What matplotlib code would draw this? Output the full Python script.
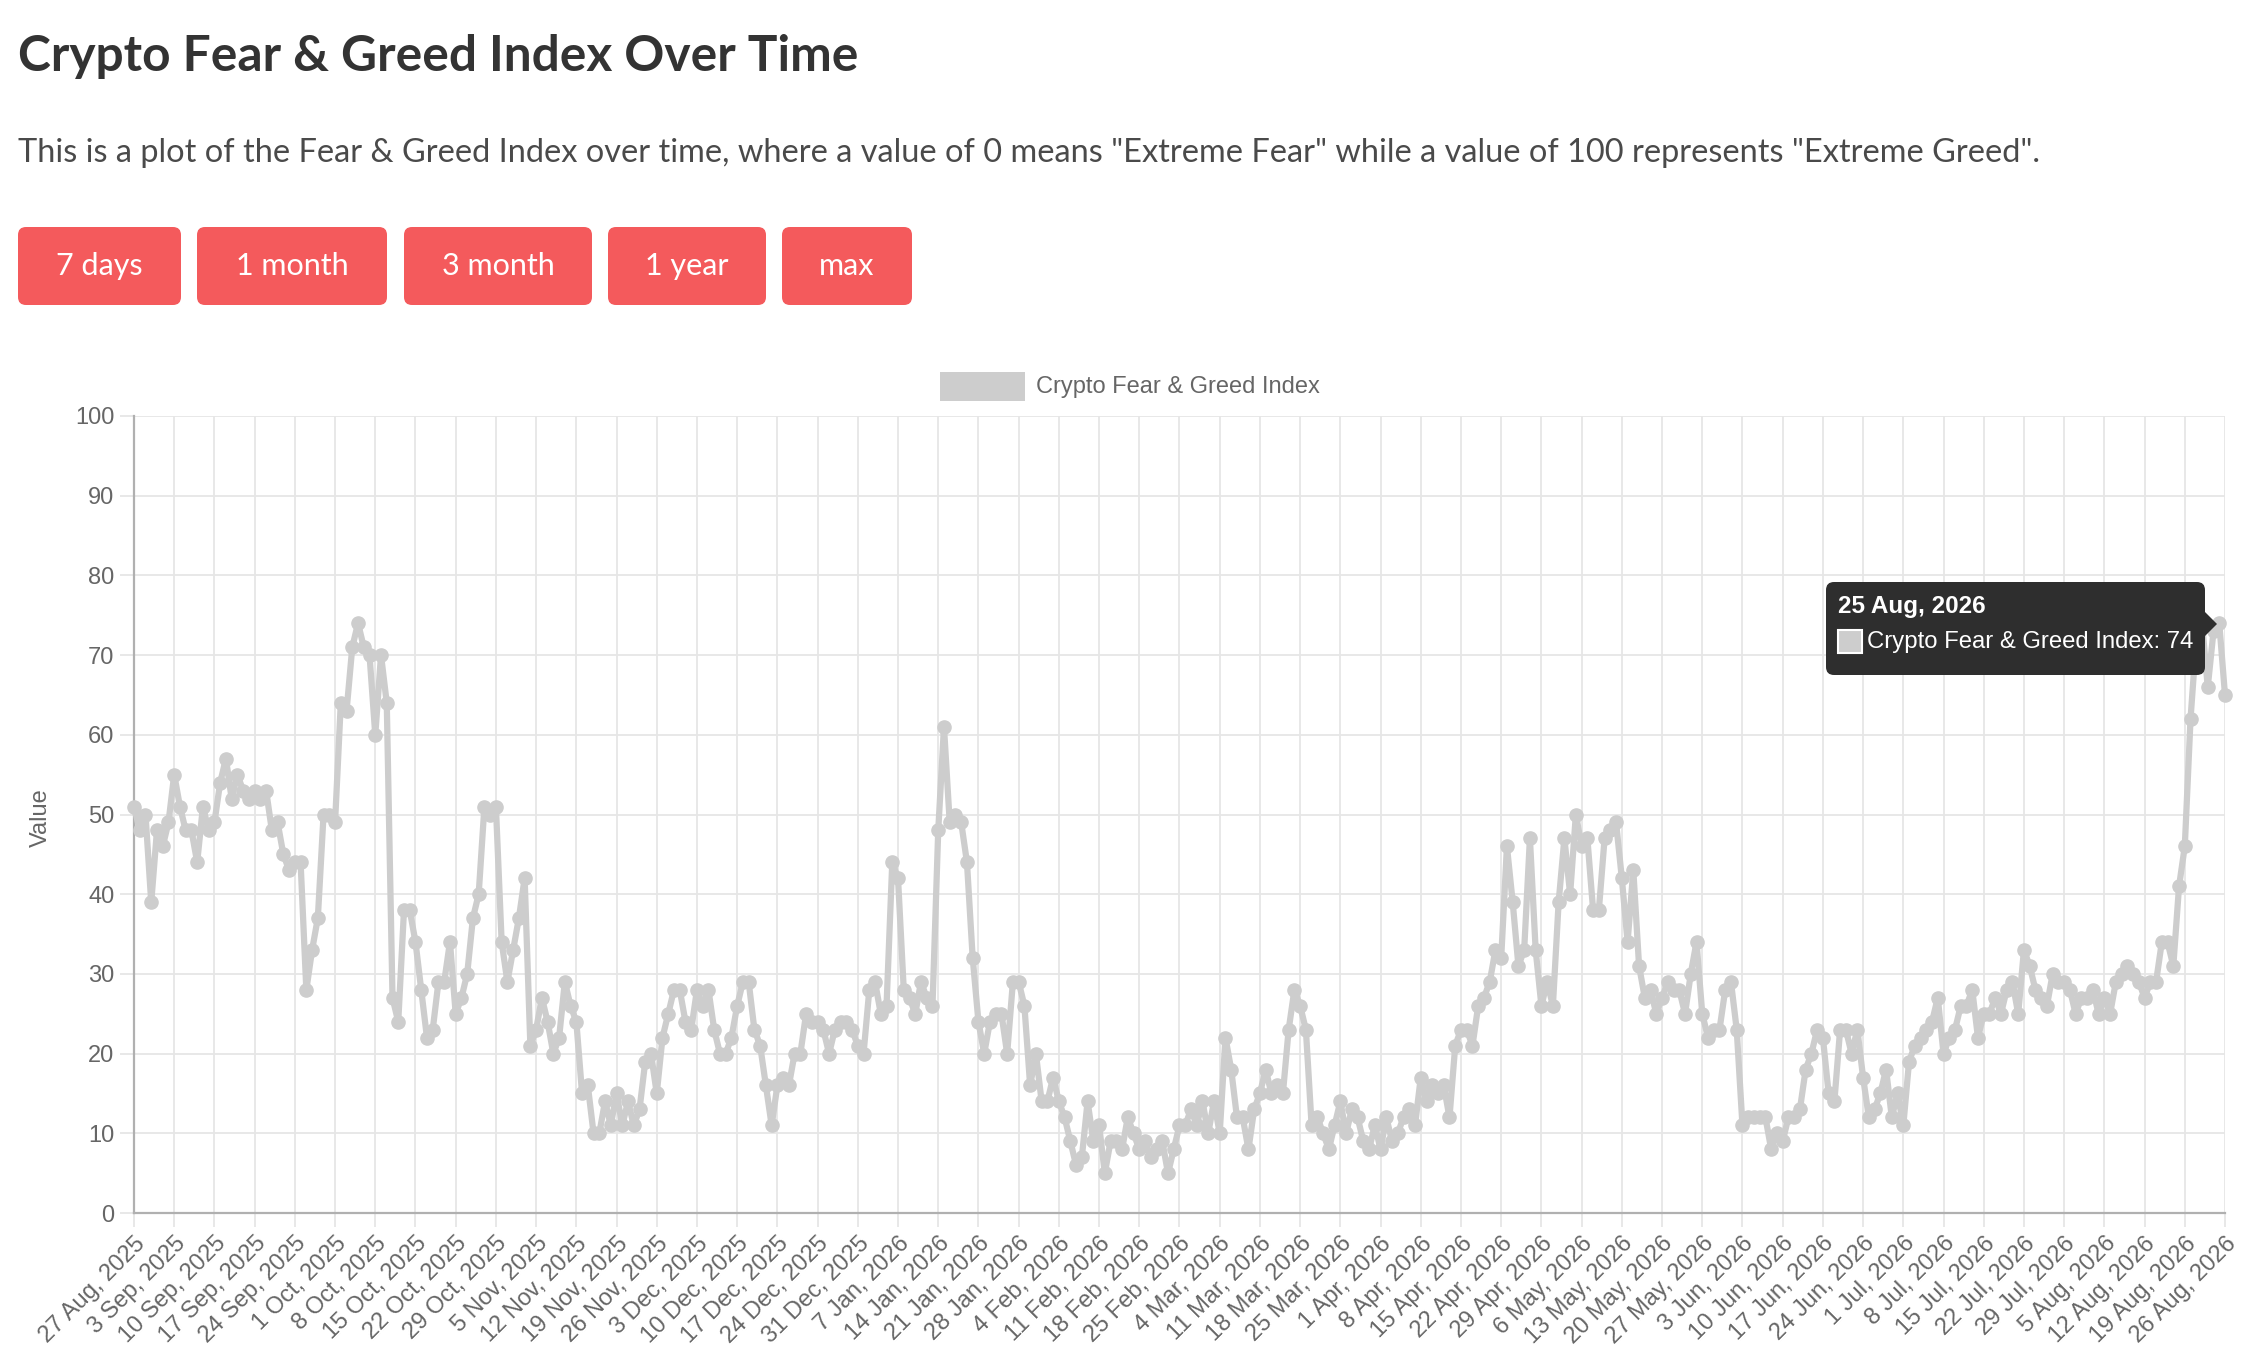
import numpy as np
import pandas as pd
import matplotlib
matplotlib.use("Agg")
import matplotlib.pyplot as plt
from matplotlib.patches import FancyBboxPatch, Polygon, Rectangle

W, H = 2259, 1370

# data: one value per day, 27 Aug 2025 .. 26 Aug 2026
start_date = "2025-08-27"
end_date = "2026-08-26"
series_name = "Crypto Fear & Greed Index"
fng_values = [
    51, 48, 50, 39, 48, 46, 49,
    55, 51, 48, 48, 44, 51, 48,
    49, 54, 57, 52, 55, 53, 52,
    53, 52, 53, 48, 49, 45, 43,
    44, 44, 28, 33, 37, 50, 50,
    49, 64, 63, 71, 74, 71, 70,
    60, 70, 64, 27, 24, 38, 38,
    34, 28, 22, 23, 29, 29, 34,
    25, 27, 30, 37, 40, 51, 50,
    51, 34, 29, 33, 37, 42, 21,
    23, 27, 24, 20, 22, 29, 26,
    24, 15, 16, 10, 10, 14, 11,
    15, 11, 14, 11, 13, 19, 20,
    15, 22, 25, 28, 28, 24, 23,
    28, 26, 28, 23, 20, 20, 22,
    26, 29, 29, 23, 21, 16, 11,
    16, 17, 16, 20, 20, 25, 24,
    24, 23, 20, 23, 24, 24, 23,
    21, 20, 28, 29, 25, 26, 44,
    42, 28, 27, 25, 29, 27, 26,
    48, 61, 49, 50, 49, 44, 32,
    24, 20, 24, 25, 25, 20, 29,
    29, 26, 16, 20, 14, 14, 17,
    14, 12, 9, 6, 7, 14, 9,
    11, 5, 9, 9, 8, 12, 10,
    8, 9, 7, 8, 9, 5, 8,
    11, 11, 13, 11, 14, 10, 14,
    10, 22, 18, 12, 12, 8, 13,
    15, 18, 15, 16, 15, 23, 28,
    26, 23, 11, 12, 10, 8, 11,
    14, 10, 13, 12, 9, 8, 11,
    8, 12, 9, 10, 12, 13, 11,
    17, 14, 16, 15, 16, 12, 21,
    23, 23, 21, 26, 27, 29, 33,
    32, 46, 39, 31, 33, 47, 33,
    26, 29, 26, 39, 47, 40, 50,
    46, 47, 38, 38, 47, 48, 49,
    42, 34, 43, 31, 27, 28, 25,
    27, 29, 28, 28, 25, 30, 34,
    25, 22, 23, 23, 28, 29, 23,
    11, 12, 12, 12, 12, 8, 10,
    9, 12, 12, 13, 18, 20, 23,
    22, 15, 14, 23, 23, 20, 23,
    17, 12, 13, 15, 18, 12, 15,
    11, 19, 21, 22, 23, 24, 27,
    20, 22, 23, 26, 26, 28, 22,
    25, 25, 27, 25, 28, 29, 25,
    33, 31, 28, 27, 26, 30, 29,
    29, 28, 25, 27, 27, 28, 25,
    27, 25, 29, 30, 31, 30, 29,
    27, 29, 29, 34, 34, 31, 41,
    46, 62, 72, 74, 66, 73, 74,
    65,
]
buttons = ["7 days", "1 month", "3 month", "1 year", "max"]
y_ticks = list(range(0, 101, 10))
hover_day = "2026-08-25"

title = "Crypto Fear & Greed Index Over Time"
subtitle = ('This is a plot of the Fear & Greed Index over time, where a value of 0 means '
            '"Extreme Fear" while a value of 100 represents "Extreme Greed".')

dates = pd.date_range(start_date, end_date, freq="D")
tick_dates = dates[::7]
tick_labels = [f"{d.day} {d.strftime('%b')}, {d.year}" for d in tick_dates]

line_c = "#cdcdcd"
grid_c = "#e6e6e6"
axis_c = "#b0b0b0"
label_c = "#666666"
red = "#f45a5c"
chart_font = "Liberation Sans"
page_font = "Lato"
fs = 17

fig = plt.figure(figsize=(W / 100, H / 100), dpi=100)
fig.patch.set_facecolor("white")

# plot area in pixel terms
x0, x1, y0, y1 = 134, 2225, 416, 1213
ax = fig.add_axes([x0 / W, 1 - y1 / H, (x1 - x0) / W, (y1 - y0) / H])
ax.plot(dates, fng_values, color=line_c, lw=4.5, marker="o", ms=9.5,
        mfc=line_c, mec=line_c, solid_joinstyle="round", clip_on=False, zorder=3)
ax.set_xlim(dates[0], dates[-1])
ax.set_ylim(0, 100)
ax.set_yticks(y_ticks)
ax.set_yticklabels([str(v) for v in y_ticks], fontsize=fs, color=label_c, family=chart_font)
ax.set_xticks(tick_dates)
ax.set_xticklabels(tick_labels, rotation=45, ha="right", va="top", rotation_mode="anchor",
                   fontsize=fs, color=label_c, family=chart_font)
ax.grid(True, color=grid_c, lw=1.3, zorder=0)
ax.set_axisbelow(True)
ax.tick_params(axis="both", length=10, width=1.3, color=grid_c, pad=4)
for s in ["top", "right"]:
    ax.spines[s].set_visible(False)
for s in ["left", "bottom"]:
    ax.spines[s].set_color(axis_c)
    ax.spines[s].set_linewidth(1.6)

# overlay in page pixels
ov = fig.add_axes([0, 0, 1, 1])
ov.set_xlim(0, W)
ov.set_ylim(H, 0)
ov.axis("off")
ov.patch.set_alpha(0)

ov.text(18, 56, title, fontsize=35.7, fontweight="bold", color="#333333",
        family=page_font, va="center", ha="left")
ov.text(18, 153, subtitle, fontsize=23.4, color="#4a4a4a",
        family=page_font, va="center", ha="left")

btn_x = [(18, 181), (197, 387), (404, 592), (608, 766), (782, 912)]
for (bx0, bx1), lab in zip(btn_x, buttons):
    ov.add_patch(FancyBboxPatch((bx0 + 8, 227 + 8), bx1 - bx0 - 16, 78 - 16,
                                boxstyle="round,pad=8", fc=red, ec="none"))
    ov.text((bx0 + bx1) / 2, 266, lab, fontsize=22, color="white",
            family=page_font, ha="center", va="center")

# legend
ov.add_patch(Rectangle((940, 372), 85, 29, fc=line_c, ec="none"))
ov.text(1036, 387, series_name, fontsize=fs, color=label_c, family=chart_font,
        ha="left", va="center")

ov.text(41, 818, "Value", fontsize=fs, color=label_c, family=chart_font,
        rotation=90, ha="center", va="center")

# tooltip for the hovered day
hi = list(dates).index(pd.Timestamp(hover_day))
hv = fng_values[hi]
hd = dates[hi]
ov.add_patch(FancyBboxPatch((1834, 590), 2197 - 1834, 667 - 590,
                            boxstyle="round,pad=8", fc="#2e2e2e", ec="none", zorder=5))
ov.add_patch(Polygon([(2204, 611), (2217, 624), (2204, 637)], closed=True,
                     fc="#2e2e2e", ec="none", zorder=5))
ov.text(1838, 606, f"{hd.day} {hd.strftime('%b')}, {hd.year}", fontsize=17.5,
        fontweight="bold", color="white", family=chart_font, ha="left", va="center", zorder=6)
ov.add_patch(Rectangle((1838, 630), 24, 23, fc=line_c, ec="white", lw=1.5, zorder=6))
ov.text(1867, 642, f"{series_name}: {hv}", fontsize=17.2, color="white",
        family=chart_font, ha="left", va="center", zorder=6)

fig.savefig("out.png", dpi=100, facecolor="white")
